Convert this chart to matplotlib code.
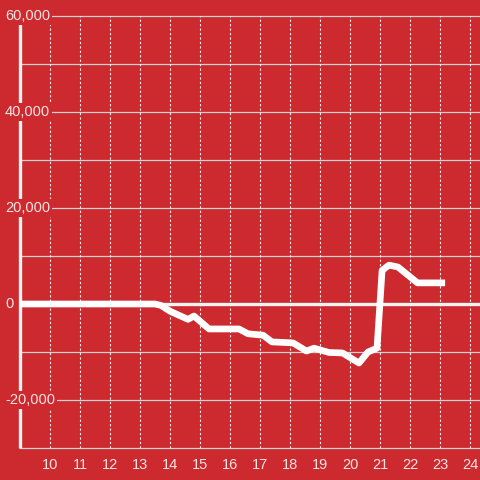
import matplotlib
matplotlib.use("Agg")
import matplotlib.pyplot as plt

# data
hours = [9.0, 13.5, 13.7, 14.0, 14.6, 14.8, 15.3, 16.3, 16.6, 17.1, 17.4, 18.1,
         18.55, 18.8, 19.3, 19.75, 20.3, 20.6, 20.9, 21.07, 21.3, 21.6, 22.25, 23.17]
values = [0, 0, -300, -1500, -3200, -2500, -5200, -5200, -6200, -6500, -7900, -8100,
          -9800, -9200, -10100, -10200, -12300, -10000, -9200, 7000, 8100, 7700, 4400, 4400]
x_ticks = list(range(10, 25))
y_ticks = [-20000, 0, 20000, 40000, 60000]
y_grid = [-30000, -20000, -10000, 0, 10000, 20000, 30000, 40000, 50000, 60000]

BG = "#cc2a2f"
TXT = "#f4e4e4"
GRID = "#d8d0d0"

plt.rcParams['font.family'] = ['Liberation Sans', 'DejaVu Sans']

fig = plt.figure(figsize=(4.8, 4.8), dpi=100, facecolor=BG)
W = 480.0
ax = fig.add_axes([20 / W, 32 / W, 460 / W, 448 / W])
ax.set_facecolor(BG)
ax.set_xlim(9, 9 + 460 / 30.0)
ax.set_ylim(-30000, -30000 + 448 / 96.0 * 20000)

for s in ax.spines.values():
    s.set_visible(False)
ax.set_xticks([])
ax.set_yticks([])

# horizontal grid
for g in y_grid:
    if g == 0:
        continue
    ax.axhline(g, color=GRID, lw=0.9, zorder=1, clip_on=False)
# vertical dotted grid
ax.vlines(x_ticks, -30000, 60000, colors="#eeeeee", linestyles=(0, (2, 2)), lw=0.8, zorder=1)
# zero line
ax.axhline(0, color="#f2f2f2", lw=2.4, zorder=2)
# left spine
ax.plot([9, 9], [-30000, 60000], color="#f2f2f2", lw=2.4, zorder=3, clip_on=False,
        solid_capstyle='butt')

# data line
ax.plot(hours, values, color="white", lw=4.8, zorder=4, solid_capstyle='butt',
        solid_joinstyle='round')

# y labels with background boxes
ytr = ax.get_yaxis_transform()
for v in y_ticks:
    ax.text(-15 / 460.0, v, f"{v:,}", transform=ytr, ha='left', va='center',
            fontsize=10.5, color=TXT, zorder=6, clip_on=False,
            bbox=dict(boxstyle='square,pad=0.15', fc=BG, ec='none'))

# x labels
xtr = ax.get_xaxis_transform()
for h in x_ticks:
    ax.text(h, -17 / 448.0, str(h), transform=xtr, ha='center', va='center',
            fontsize=10.5, color=TXT, clip_on=False)

fig.savefig("out.png", dpi=100, facecolor=BG)
